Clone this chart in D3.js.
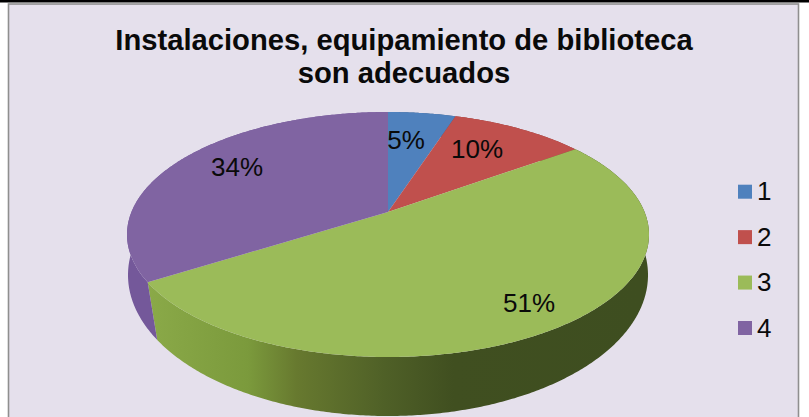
<!DOCTYPE html>
<html>
<head>
<meta charset="utf-8">
<script src="https://cdn.jsdelivr.net/npm/d3@7"></script>
<style>
	html, body { margin: 0; padding: 0; background: #fff; overflow: hidden; }
	text { font-family: "Liberation Sans", Arial, sans-serif; fill: #0a0a0a; }
</style>
</head>
<body>
<div id="chart"></div>
<script>
// 3D looking pie, tilted disc drawn from the pie angles.

let categories	= [ "1", "2", "3", "4" ] ;
let percents	= [ 5, 10, 51, 34 ] ;
let colors		= [ "#4f81bd", "#c0504d", "#9bbb59", "#8064a2" ] ;
let sideColors	= [ "#3f5f8a", "#8c3a38", "#6f8a38", "#74589a" ] ;
let titleLines	= [ "Instalaciones, equipamiento de biblioteca", "son adecuados" ] ;

let width	= 809 ;
let height	= 417 ;

// top face and bottom rim of the disc, k moves the pie centre up inside the ellipse
let top_	= { cx: 388, cy: 234.5, rx: 261, ry: 122.5, k: -0.184 } ;
let bottom_	= { cx: 388, cy: 275,   rx: 260, ry: 141,   k: -0.1 } ;

let svg = d3.select("#chart").append("svg")
	.attr("width", width)
	.attr("height", height)
	.style("display", "block") ;

// frame
svg.append("rect").attr("width", width).attr("height", height).attr("fill", "#fff") ;
svg.append("rect").attr("x", 0).attr("y", 0).attr("width", width).attr("height", 2.5).attr("fill", "#000") ;
svg.append("rect")
	.attr("x", 8.5).attr("y", 4)
	.attr("width", 790).attr("height", 420)
	.attr("fill", "#e5e0ec")
	.attr("stroke", "#8f8f8f")
	.attr("stroke-width", 1.6) ;

// title
svg.append("g").selectAll("text").data(titleLines).join("text")
	.attr("x", 404)
	.attr("y", (d, i) => 50 + i * 33)
	.attr("text-anchor", "middle")
	.attr("font-size", 29.2)
	.attr("font-weight", "bold")
	.text(d => d) ;

let pie		= d3.pie().sort(null).value(d => d) ;
let slices	= pie(percents) ;

// angle on the disc -> screen point
let project = (disc, a) => {
	let x	= d3.scaleLinear().domain([ -1, 1 ]).range([ disc.cx - disc.rx, disc.cx + disc.rx ]) ;
	let y	= d3.scaleLinear().domain([ -1, 1 ]).range([ disc.cy - disc.ry, disc.cy + disc.ry ]) ;
	let u	= Math.sin(a) ;
	let v	= -Math.cos(a) ;
	let w	= 1 + disc.k * v ;
	return [ x(u * Math.sqrt(1 - disc.k * disc.k) / w), y((v + disc.k) / w) ] ;
} ;

let arcAngles = (a0, a1) => {
	let n = Math.max(2, Math.ceil((a1 - a0) / 0.01)) ;
	return d3.range(n + 1).map(i => a0 + (a1 - a0) * i / n) ;
} ;

let line = d3.line() ;

// side shading
let defs = svg.append("defs") ;
let sideGrad = defs.append("linearGradient")
	.attr("id", "sideGreen")
	.attr("gradientUnits", "userSpaceOnUse")
	.attr("x1", 150).attr("x2", 640).attr("y1", 0).attr("y2", 0) ;
[ [ 0, "#8aa948" ], [ 0.2, "#7b9a3c" ], [ 0.3, "#67792f" ], [ 0.48, "#4f6027" ], [ 0.62, "#404f20" ], [ 1, "#3e4e20" ] ]
	.forEach(s => sideGrad.append("stop").attr("offset", s[0]).attr("stop-color", s[1])) ;

// side wall first, the top face covers whatever is behind it
svg.append("g").selectAll("path").data(slices).join("path")
	.attr("d", d => {
		let angles = arcAngles(d.startAngle, d.endAngle) ;
		let upper = angles.map(a => project(top_, a)) ;
		let lower = angles.map(a => project(bottom_, a)).reverse() ;
		return line(upper.concat(lower)) + "Z" ;
	})
	.attr("fill", (d, i) => i === 2 ? "url(#sideGreen)" : sideColors[i]) ;

// top face
let apex = [ top_.cx, top_.cy + top_.ry * top_.k ] ;
svg.append("g").selectAll("path").data(slices).join("path")
	.attr("d", d => line([ apex ].concat(arcAngles(d.startAngle, d.endAngle).map(a => project(top_, a)))) + "Z")
	.attr("fill", (d, i) => colors[i]) ;

// data labels
let labelAt = [ [ 406, 149 ], [ 477, 158 ], [ 529, 312 ], [ 237, 176 ] ] ;
svg.append("g").selectAll("text").data(percents).join("text")
	.attr("x", (d, i) => labelAt[i][0])
	.attr("y", (d, i) => labelAt[i][1])
	.attr("text-anchor", "middle")
	.attr("font-size", 26)
	.text(d => d + "%") ;

// legend
let legendY = d3.scalePoint().domain(categories).range([ 191.7, 328 ]) ;
let legend = svg.append("g").selectAll("g").data(categories).join("g")
	.attr("transform", d => "translate(738," + legendY(d) + ")") ;
legend.append("rect")
	.attr("x", 0).attr("y", -7)
	.attr("width", 14).attr("height", 14)
	.attr("fill", (d, i) => colors[i]) ;
legend.append("text")
	.attr("x", 19).attr("y", 8.5)
	.attr("font-size", 26)
	.text(d => d) ;
</script>
</body>
</html>
